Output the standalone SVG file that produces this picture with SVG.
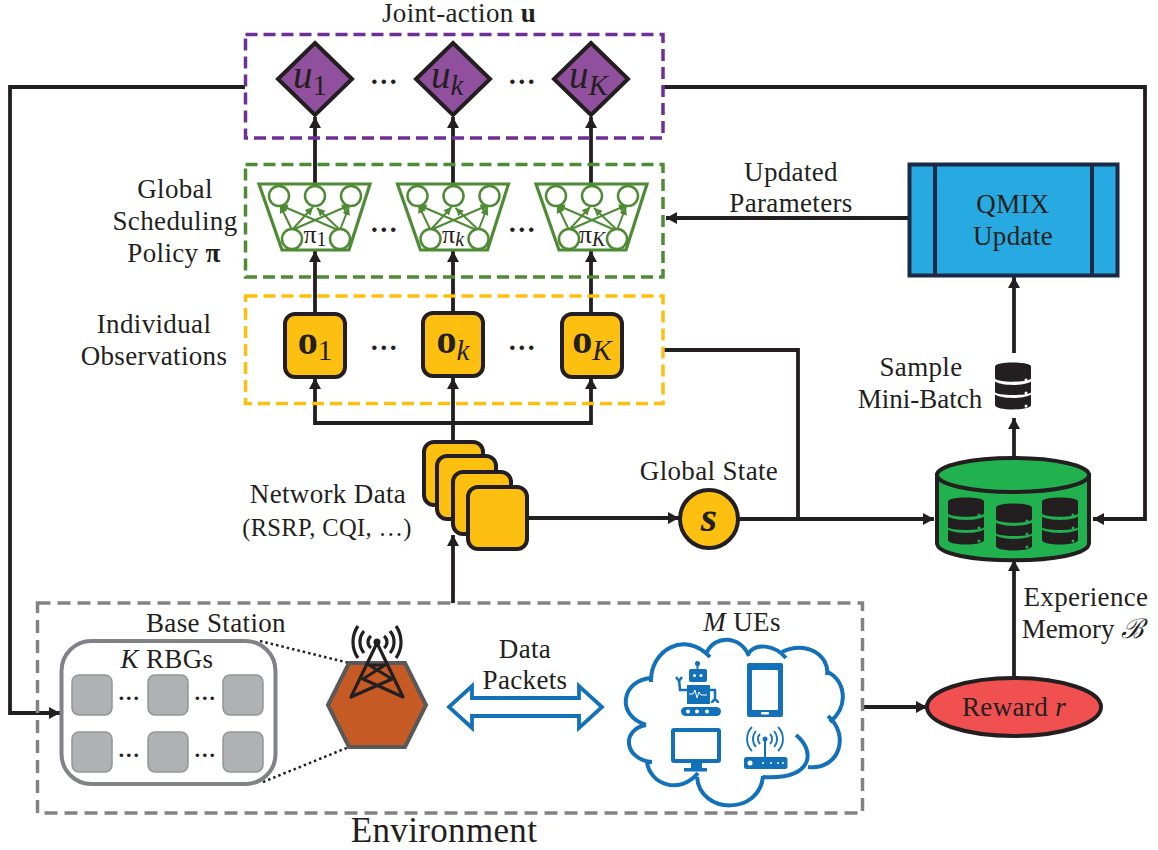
<svg xmlns="http://www.w3.org/2000/svg" xmlns:xlink="http://www.w3.org/1999/xlink" width="1158" height="850" viewBox="0 0 1158 850">
<style>
text{font-family:"Liberation Serif","DejaVu Serif",serif;font-size:27px;letter-spacing:.35px;fill:#231f20;text-anchor:middle}
.i{font-style:italic}.b{font-weight:bold}
.dots{font-size:28px;font-weight:bold}.sd{font-size:22px;font-weight:bold}
.l{fill:none;stroke:#231f20;stroke-width:3.8}
.a{marker-end:url(#ah)}
.box{fill:none;stroke-width:3.5;stroke-dasharray:12 6}
.kb{fill:#fdc010;stroke:#231f20;stroke-width:4}
.dia{fill:#91509d;stroke:#231f20;stroke-width:4}
.rbg{fill:#b0b1b3;stroke:#939598;stroke-width:1.5}
.gl{stroke:#4f8a35;stroke-width:2;fill:none;marker-end:url(#gh)}
.gc{fill:#fff;stroke:#4f8a35;stroke-width:2.5}
.bf{fill:#1271b8}.bw{fill:#fff}
.bs{fill:none;stroke:#1271b8;stroke-width:4}
.dot{fill:none;stroke:#231f20;stroke-width:2.5;stroke-dasharray:2.5 3}
</style>
<defs>
<marker id="ah" markerUnits="userSpaceOnUse" markerWidth="14" markerHeight="14" refX="11" refY="6.5" orient="auto"><path d="M0,0.5L11,6.5L0,12.5Z" fill="#231f20"/></marker>
<marker id="gh" markerUnits="userSpaceOnUse" markerWidth="9" markerHeight="9" refX="8" refY="4" orient="auto"><path d="M0,0L8,4L0,8Z" fill="#4f8a35"/></marker>
<g id="net">
<path d="M0,0H111L90,66H23Z" fill="#fff" stroke="#4f8a35" stroke-width="3.2"/>
<path class="gl" d="M33,46L21,21"/><path class="gl" d="M33,46L54,23"/><path class="gl" d="M33,46L91,21"/>
<path class="gl" d="M81,46L90,23"/><path class="gl" d="M81,46L58,24"/><path class="gl" d="M79,46L21,21"/>
<circle class="gc" cx="20" cy="12" r="10"/><circle class="gc" cx="56" cy="12" r="10"/><circle class="gc" cx="92" cy="12" r="10"/>
<circle class="gc" cx="33" cy="55" r="10"/><circle class="gc" cx="81" cy="55" r="10"/>
</g>
<g id="dbi">
<path d="M-18,-18.500C-18,-24 18,-24 18,-18.500V-7C18,-2 -18,-2 -18,-7Z" fill="#231f20"/>
<path d="M-18,-3.500C-12,1 12,1 18,-3.500V7C18,11 -18,11 -18,7Z" fill="#231f20"/>
<path d="M-18,9.500C-12,14 12,14 18,9.500V20C18,26 -18,26 -18,20Z" fill="#231f20"/>
<circle cx="13" cy="-5" r="1.500"/><circle cx="13" cy="8" r="1.500"/><circle cx="13" cy="21" r="1.500"/>
</g>
<rect id="sq" class="rbg" width="40" height="40" rx="7"/>
</defs>

<g id="connectors">
<path class="l" d="M245,87H10V713H60" marker-end="url(#ah)"/>
<path class="l a" d="M663,87H1145V519H1093"/>
<path class="l a" d="M315,184V117"/><path class="l a" d="M453,184V117"/><path class="l a" d="M591,184V117"/>
<path class="l a" d="M315,312V251"/><path class="l a" d="M453,312V251"/><path class="l a" d="M591,312V251"/>
<path class="l a" d="M453,442V378"/>
<path class="l a" d="M453,423H315V378"/><path class="l a" d="M453,423H591V378"/>
<path class="l a" d="M453,603V535"/>
<path class="l a" d="M527,518H679"/>
<path class="l a" d="M738,519H934"/>
<path class="l" d="M663,350H798V519"/>
<path class="l a" d="M908,218H666"/>
<path class="l a" d="M1014,353V277"/>
<path class="l a" d="M1014,457V418"/>
<path class="l a" d="M1014,676V560"/>
<path class="l a" d="M862,707H927"/>
<path class="dot" d="M260,641L349,663"/><path class="dot" d="M263,782L349,747"/>
</g>

<g id="joint-action">
<rect class="box" x="245.500" y="34.500" width="417.500" height="103.500" stroke="#6f3095"/>
<text x="459" y="22">Joint-action <tspan class="b">u</tspan></text>
<text class="dots" x="384" y="84">…</text><text class="dots" x="522" y="84">…</text>
</g>
<g id="u1"><path class="dia" d="M315,43L352,79L315,115L278,79Z"/><text class="i" x="293" y="88" style="font-size:39px;text-anchor:start;letter-spacing:0">u<tspan dy="7" style="font-size:29px;font-style:normal">1</tspan></text></g>
<g id="uk"><path class="dia" d="M453,43L490,79L453,115L416,79Z"/><text class="i" x="431" y="88" style="font-size:39px;text-anchor:start;letter-spacing:0">u<tspan dy="7" style="font-size:29px">k</tspan></text></g>
<g id="uK"><path class="dia" d="M591,43L628,79L591,115L554,79Z"/><text class="i" x="569" y="88" style="font-size:39px;text-anchor:start;letter-spacing:0">u<tspan dy="7" style="font-size:29px">K</tspan></text></g>

<g id="policy">
<rect class="box" x="245.500" y="164.500" width="417.500" height="112.500" stroke="#4f8a35"/>
<text x="175" y="198">Global</text><text x="175" y="230">Scheduling</text><text x="174" y="262">Policy <tspan class="b">π</tspan></text>
<text class="dots" x="384" y="232">…</text><text class="dots" x="522" y="232">…</text>
</g>
<g id="pi1"><use xlink:href="#net" x="259" y="184"/><text x="315" y="243" style="font-size:26px;letter-spacing:0">π<tspan dy="3" style="font-size:20px">1</tspan></text></g>
<g id="pik"><use xlink:href="#net" x="397.500" y="184"/><text x="453" y="243" style="font-size:26px;letter-spacing:0">π<tspan class="i" dy="3" style="font-size:20px">k</tspan></text></g>
<g id="piK"><use xlink:href="#net" x="536" y="184"/><text x="592" y="243" style="font-size:26px;letter-spacing:0">π<tspan class="i" dy="3" style="font-size:20px">K</tspan></text></g>

<g id="observations">
<rect class="box" x="245.500" y="296" width="417.500" height="107.500" stroke="#fdc010"/>
<text x="154" y="333">Individual</text><text x="154" y="365">Observations</text>
<text class="dots" x="384" y="350">…</text><text class="dots" x="522" y="350">…</text>
</g>
<g id="o1"><rect class="kb" x="285" y="314" width="60" height="63" rx="10"/><text x="315" y="354" style="font-size:40px;letter-spacing:0"><tspan class="b">o</tspan><tspan dy="6" style="font-size:29px">1</tspan></text></g>
<g id="ok"><rect class="kb" x="423" y="313" width="60" height="63" rx="10"/><text x="453" y="353" style="font-size:40px;letter-spacing:0"><tspan class="b">o</tspan><tspan class="i" dy="7" style="font-size:29px">k</tspan></text></g>
<g id="oK"><rect class="kb" x="562" y="314" width="60" height="63" rx="10"/><text x="592" y="353" style="font-size:40px;letter-spacing:0"><tspan class="b">o</tspan><tspan class="i" dy="7" style="font-size:29px">K</tspan></text></g>

<g id="network-data">
<rect class="kb" x="424" y="442" width="59" height="63" rx="10"/>
<rect class="kb" x="437" y="456" width="59" height="63" rx="10"/>
<rect class="kb" x="453" y="472" width="58" height="62" rx="10"/>
<rect class="kb" x="468" y="487" width="59" height="62" rx="10"/>
<text x="328" y="503">Network Data</text><text x="327" y="536" style="font-size:24.500px">(RSRP, CQI, …)</text>
</g>

<g id="global-state"><circle class="kb" cx="709" cy="519" r="29"/><text class="i b" x="709" y="531" style="font-size:42px;letter-spacing:0">s</text><text x="709" y="480">Global State</text></g>

<g id="qmix">
<rect x="909.500" y="164.500" width="208" height="111" fill="#27aae1" stroke="#1c2b45" stroke-width="4"/>
<path d="M935,165V275M1092,165V275" fill="none" stroke="#1c2b45" stroke-width="4"/>
<text x="1013" y="213">QMIX</text><text x="1013" y="245">Update</text>
</g>
<g id="updated-parameters"><text x="791" y="181">Updated</text><text x="791" y="212">Parameters</text></g>

<g id="mini-batch"><use xlink:href="#dbi" x="1013" y="385" style="fill:#fff"/><text x="921" y="376">Sample</text><text x="920" y="408" style="letter-spacing:0">Mini-Batch</text></g>

<g id="replay-memory">
<path d="M937,475V543C937,566 1089,566 1089,543V475Z" fill="#22b14f" stroke="#231f20" stroke-width="4"/>
<ellipse cx="1013" cy="475" rx="76" ry="17" fill="#22b14f" stroke="#231f20" stroke-width="4"/>
<use xlink:href="#dbi" x="966" y="520" style="fill:#22b14f"/><use xlink:href="#dbi" x="1014" y="526" style="fill:#22b14f"/><use xlink:href="#dbi" x="1060" y="520" style="fill:#22b14f"/>
<text x="1086" y="606">Experience</text><text x="1083" y="638" style="letter-spacing:0">Memory <tspan style="font-family:'DejaVu Serif',serif" class="i">ℬ</tspan></text>
</g>

<g id="reward"><ellipse cx="1014" cy="707" rx="87" ry="29" fill="#f05050" stroke="#231f20" stroke-width="4"/><text x="1014" y="716">Reward <tspan class="i">r</tspan></text></g>

<g id="environment">
<rect x="37.500" y="603" width="825" height="210" fill="none" stroke="#808285" stroke-width="3.500" stroke-dasharray="13 7"/>
<text x="444" y="842" style="font-size:35px">Environment</text>
</g>

<g id="rbgs">
<rect x="61.500" y="641" width="214" height="143" rx="30" fill="#fff" stroke="#808285" stroke-width="4"/>
<text x="167" y="668"><tspan class="i">K</tspan> RBGs</text>
<use xlink:href="#sq" x="72" y="675"/><use xlink:href="#sq" x="148" y="675"/><use xlink:href="#sq" x="223" y="675"/>
<use xlink:href="#sq" x="72" y="732"/><use xlink:href="#sq" x="148" y="732"/><use xlink:href="#sq" x="223" y="732"/>
<text class="sd" x="129" y="700">…</text><text class="sd" x="205" y="700">…</text><text class="sd" x="129" y="757">…</text><text class="sd" x="205" y="757">…</text>
<text x="216" y="632">Base Station</text>
</g>

<g id="base-station">
<path d="M328,705L349,663H405L426,705L405,747H349Z" fill="#c55a25" stroke="#595959" stroke-width="4"/>
<g fill="none" stroke="#231f20" stroke-width="3.200" stroke-linejoin="round">
<path d="M351,697L377,643L403,697L363,679L385,665H369L392,679Z"/>
<path d="M371,636A7.500,7.500 0 0 0 371,648M384,636A7.500,7.500 0 0 1 384,648M364,631A17,17 0 0 0 364,653M390,631A17,17 0 0 1 390,653M358,626A28,28 0 0 0 358,658M396,626A28,28 0 0 1 396,658"/>
</g>
<circle cx="377" cy="642" r="3.500" fill="#231f20"/>
</g>

<g id="data-packets">
<path d="M449,707L472,686V698H579V686L602,707L579,728V716H472V728Z" fill="#fff" stroke="#1271b8" stroke-width="3.800"/>
<text x="525" y="658">Data</text><text x="525" y="689">Packets</text>
</g>

<g id="ues">
<text x="742" y="631"><tspan class="i">M</tspan> UEs</text>
<path class="bs" d="M651,682C650,650 685,630 710,657M707,652C715,635 740,635 749,656M748,654C755,642 775,645 786,658M782,652C805,640 830,655 827,675M826,671C845,680 850,705 830,722M828,716C850,735 840,770 808,767M796,735C815,750 815,780 763,777M763,776C760,815 700,815 697,777M698,773C680,795 650,785 647,762M652,762C625,760 620,730 646,725M646,725C615,715 622,680 651,678"/>
<g id="robot">
<rect class="bf" x="689" y="669" width="18" height="13" rx="2"/><circle class="bf" cx="697.500" cy="663.500" r="2.500"/><rect class="bf" x="696.500" y="664" width="2" height="6"/>
<circle class="bw" cx="694.500" cy="675.500" r="1.500"/><circle class="bw" cx="701" cy="675.500" r="1.500"/>
<rect class="bf" x="687" y="685" width="23" height="19"/>
<path d="M689,694H693L695,690L697,698L699,692L701,695H707" fill="none" stroke="#fff" stroke-width="1"/>
<path class="bs" style="stroke-width:2.500" d="M687,690H680L679,679M676,677L679,681L682,677M710,690H715V700M712,703A3,3 0 1 1 718,703"/>
<rect class="bf" x="681" y="707" width="40" height="9" rx="4.500"/><circle class="bw" cx="688" cy="711.500" r="2"/><circle class="bw" cx="697" cy="711.500" r="2"/><circle class="bw" cx="707" cy="711.500" r="2"/>
</g>
<g id="phone"><rect class="bf" x="747" y="663" width="36" height="54" rx="2"/><rect class="bw" x="752" y="670" width="26" height="40" rx="1"/><rect class="bw" x="761" y="712" width="8" height="2.500" rx="1"/></g>
<g id="monitor"><rect x="673" y="730" width="46" height="31" fill="none" stroke="#1271b8" stroke-width="4" rx="1"/><rect class="bf" x="691" y="763" width="11" height="5"/><rect class="bf" x="684" y="768" width="23" height="3.500"/></g>
<g id="router"><rect class="bf" x="744" y="757" width="43.500" height="12" rx="2.500"/><circle class="bw" cx="750" cy="763" r="2.500"/><circle class="bw" cx="763" cy="763" r="1"/><circle class="bw" cx="771" cy="763" r="1"/><circle class="bw" cx="778" cy="763" r="1"/><circle class="bw" cx="783" cy="763" r="1"/>
<path d="M765,739V757" stroke="#1271b8" stroke-width="2"/><circle class="bf" cx="765" cy="739" r="2.500"/>
<path class="bs" style="stroke-width:1.800" d="M760,734A7,7 0 0 0 760,744M770,734A7,7 0 0 1 770,744M756,731A12,12 0 0 0 756,747M774,731A12,12 0 0 1 774,747M752,727A17,17 0 0 0 752,751M778,727A17,17 0 0 1 778,751"/></g>
</g>
</svg>
